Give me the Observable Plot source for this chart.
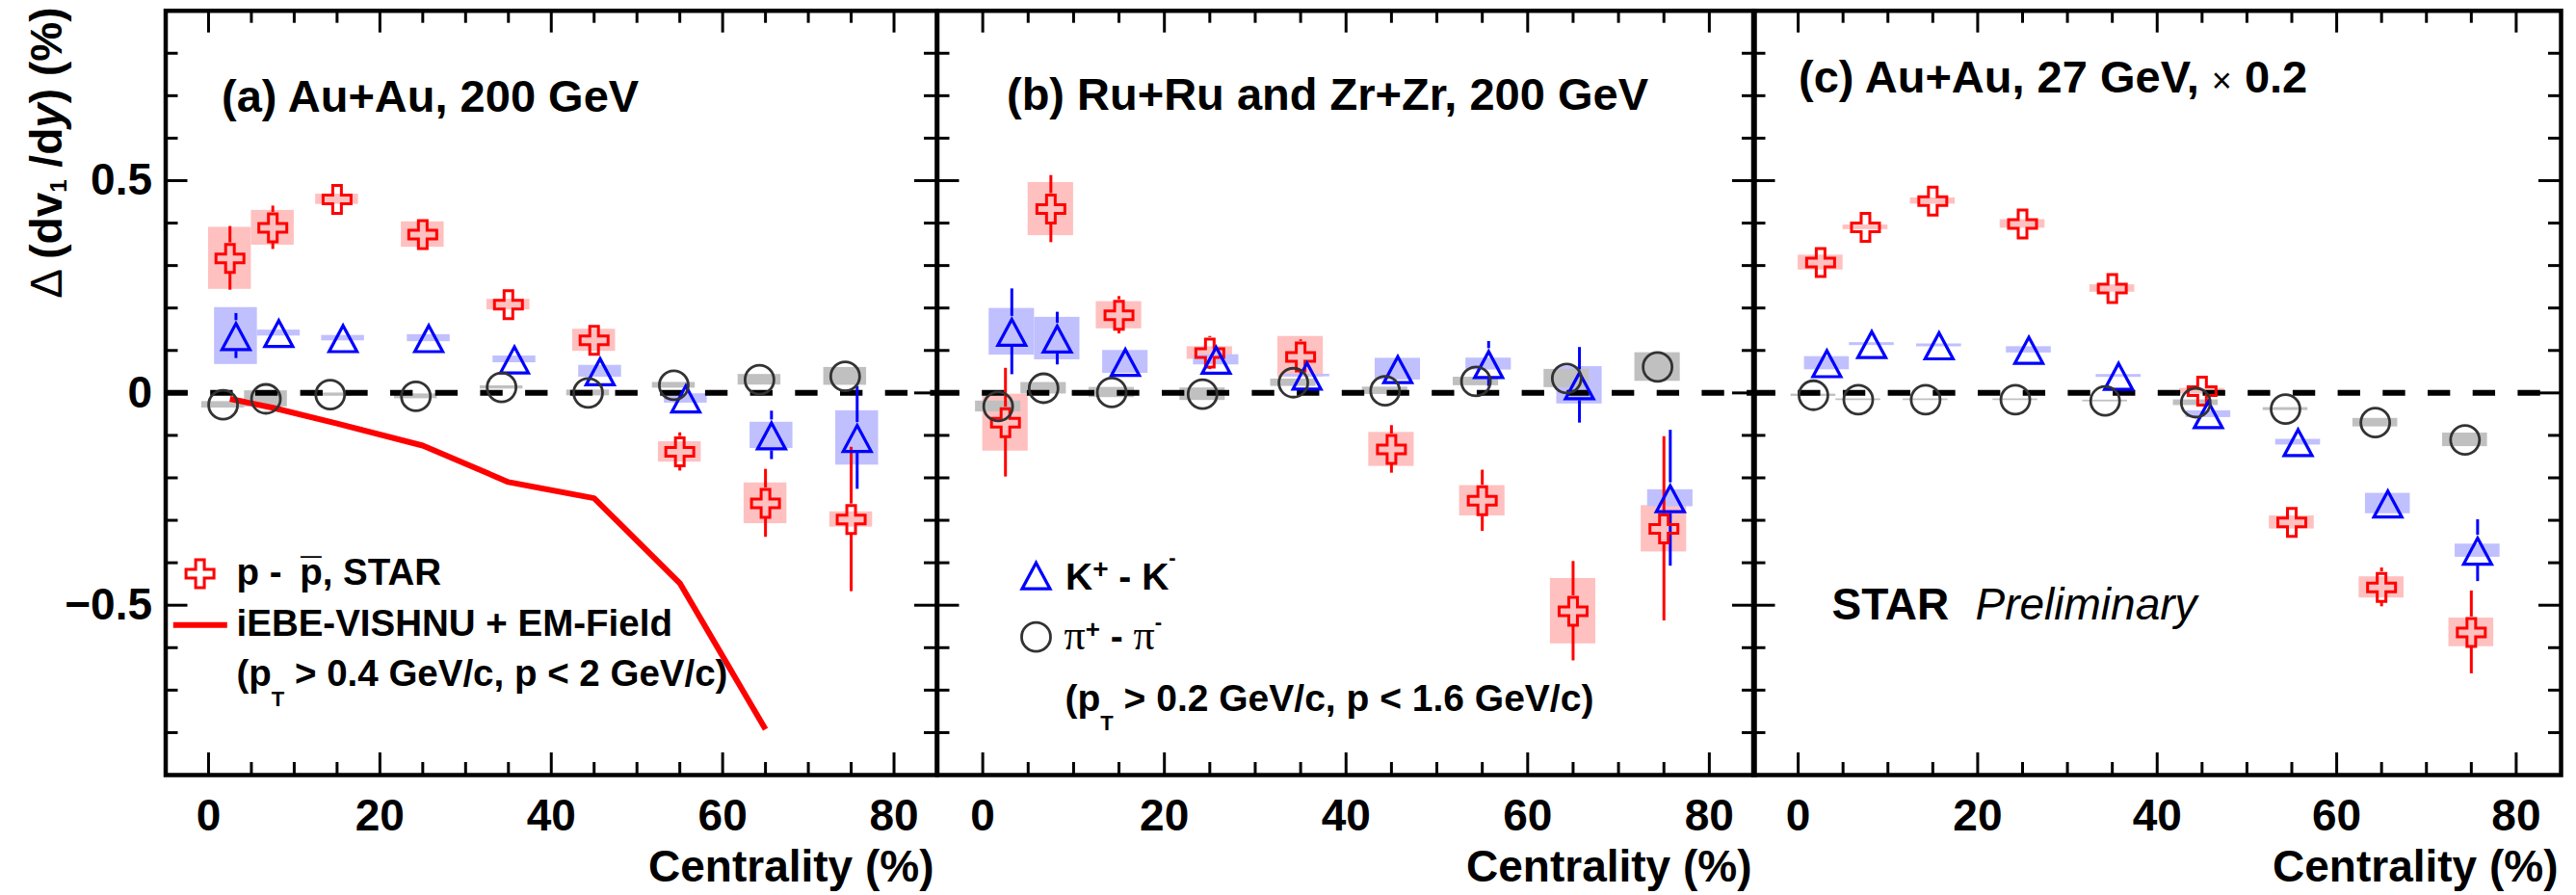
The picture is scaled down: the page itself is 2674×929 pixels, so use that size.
<!DOCTYPE html>
<html>
<head>
<meta charset="utf-8">
<script src="https://cdn.jsdelivr.net/npm/d3@7"></script>
<script src="https://cdn.jsdelivr.net/npm/@observablehq/plot@0.6"></script>
<style>
html, body { margin: 0; padding: 0; background: #fff; }
#chart { position: relative; width: 2674px; height: 929px; overflow: hidden; background: #fff; }
#chart svg { position: absolute; top: 0; }
</style>
</head>
<body>
<div id="chart"></div>
<script>
const FONT = "'Liberation Sans', Arimo, Arial, Helvetica, sans-serif";
const SERIF = "'Liberation Serif', 'Times New Roman', serif";
const RED = "#ff0000", BLUE = "#0000ff", DARK = "#333333";
const RED_BOX = "#ffc0c0", BLUE_BOX = "#c0c0ff", GRAY_BOX = "#c0c0c0";

// ---- axis ticks ----
const xMajorTicks = [0, 20, 40, 60, 80];
const xMinorTicks = [5, 10, 15, 25, 30, 35, 45, 50, 55, 65, 70, 75];
const yMajorTicks = [-0.5, 0, 0.5];
const yMinorTicks = [-0.8, -0.7, -0.6, -0.4, -0.3, -0.2, -0.1, 0.1, 0.2, 0.3, 0.4, 0.6, 0.7, 0.8];
const yTickLabels = ["\u22120.5", "0", "0.5"];

// ---- centrality positions (points are slightly offset per species) ----
const protonX = [2.5, 7.5, 15, 25, 35, 45, 55, 65, 75];
const kaonX   = [3.2, 8.2, 15.7, 25.7, 35.7, 45.7, 55.7, 65.7, 75.7];
const pionX   = [1.7, 6.7, 14.2, 24.2, 34.2, 44.3, 54.3, 64.3, 74.3];

// ---- panel (a) Au+Au 200 GeV ----
const aProtonY    = [0.317, 0.389, 0.456, 0.373, 0.208, 0.124, -0.139, -0.260, -0.298];
const aProtonStat = [0.075, 0.051, 0.020, 0.025, 0.020, 0.030, 0.045, 0.080, 0.170];
const aProtonSys  = [0.073, 0.041, 0.012, 0.030, 0.0125, 0.026, 0.024, 0.048, 0.018];
const aKaonY      = [0.134, 0.141, 0.129, 0.129, 0.079, 0.051, -0.013, -0.100, -0.106];
const aKaonStat   = [0.053, 0.020, 0.020, 0.020, 0.020, 0.020, 0.020, 0.057, 0.121];
const aKaonSys    = [0.067, 0.007, 0.0064, 0.0083, 0.008, 0.014, 0.011, 0.031, 0.064];
const aPionY      = [-0.028, -0.014, -0.004, -0.008, 0.013, 0.000, 0.018, 0.031, 0.039];
const aPionStat   = [0.010, 0.010, 0.010, 0.010, 0.010, 0.010, 0.010, 0.010, 0.010];
const aPionSys    = [0.0076, 0.019, 0.0038, 0.0057, 0.0038, 0.0068, 0.0068, 0.0125, 0.021];
const modelX      = [2.5, 7.5, 15, 25, 35, 45, 55, 65];
const modelY      = [-0.014, -0.035, -0.072, -0.124, -0.210, -0.248, -0.448, -0.792];

// ---- panel (b) Ru+Ru and Zr+Zr 200 GeV ----
const bProtonY    = [-0.070, 0.433, 0.183, 0.094, 0.085, -0.133, -0.254, -0.514, -0.320];
const bProtonStat = [0.128, 0.079, 0.044, 0.039, 0.040, 0.056, 0.072, 0.117, 0.217];
const bProtonSys  = [0.067, 0.0626, 0.032, 0.0148, 0.048, 0.040, 0.0357, 0.077, 0.0545];
const bKaonY      = [0.144, 0.128, 0.073, 0.078, 0.041, 0.056, 0.068, 0.018, -0.248];
const bKaonStat   = [0.101, 0.062, 0.020, 0.020, 0.020, 0.020, 0.053, 0.089, 0.160];
const bKaonSys    = [0.055, 0.050, 0.027, 0.012, 0.003, 0.0256, 0.014, 0.044, 0.020];
const bPionY      = [-0.032, 0.011, 0.001, -0.003, 0.024, 0.005, 0.027, 0.034, 0.061];
const bPionStat   = [0.010, 0.010, 0.010, 0.010, 0.010, 0.010, 0.010, 0.010, 0.038];
const bPionSys    = [0.0128, 0.0135, 0.012, 0.0148, 0.0087, 0.0087, 0.010, 0.0215, 0.0337];

// ---- panel (c) Au+Au 27 GeV x 0.2 ----
const cProtonY    = [0.307, 0.390, 0.452, 0.398, 0.246, 0.004, -0.305, -0.458, -0.564];
const cProtonStat = [0.010, 0.010, 0.010, 0.010, 0.010, 0.020, 0.020, 0.0457, 0.0976];
const cProtonSys  = [0.0175, 0.0054, 0.0074, 0.010, 0.0087, 0.0067, 0.0155, 0.025, 0.0337];
const cKaonY      = [0.070, 0.115, 0.112, 0.1015, 0.040, -0.050, -0.116, -0.2605, -0.3715];
const cKaonStat   = [0.010, 0.010, 0.010, 0.010, 0.010, 0.010, 0.010, 0.020, 0.0727];
const cKaonSys    = [0.0155, 0.0034, 0.0034, 0.0074, 0.0034, 0.008, 0.0067, 0.024, 0.0155];
const cPionY      = [-0.0055, -0.016, -0.016, -0.016, -0.019, -0.023, -0.038, -0.070, -0.1105];
const cPionStat   = [0.005, 0.005, 0.005, 0.005, 0.005, 0.005, 0.005, 0.005, 0.005];
const cPionSys    = [0.0027, 0.002, 0.002, 0.002, 0.002, 0.0067, 0.0034, 0.010, 0.016];

// ---- rich text (sub/superscripts) ----
const RICH = {
  "\u0394 (dv1 /dy) (%)": [["\u0394 ", {weight: "normal"}], ["(dv"], ["1", {size: 24, shift: 5}], [" /d"], ["y", {italic: true}], [") (%)"]],
  "p - p, STAR": [["p - "], ["p", {dx: 8}], ["\u00af", {dx: -22.5}], [", STAR", {dx: 1.2}]],
  "(pT > 0.4 GeV/c, p < 2 GeV/c)": [["(p"], ["T", {size: 22, shift: 21}], [" > 0.4 GeV/c, p < 2 GeV/c)"]],
  "K+ - K-": [["K"], ["+", {size: 28, shift: -12}], [" - K"], ["-", {size: 22, shift: -26}]],
  "\u03c0+ - \u03c0-": [["\u03c0", {family: SERIF, weight: "normal", size: 44}], ["+", {size: 26, shift: -12}], [" - "], ["\u03c0", {family: SERIF, weight: "normal", size: 44}], ["-", {size: 22, shift: -21}]],
  "(pT > 0.2 GeV/c, p < 1.6 GeV/c)": [["(p"], ["T", {size: 22, shift: 20}], [" > 0.2 GeV/c, p < 1.6 GeV/c)"]],
  "(c) Au+Au, 27 GeV, \u00d7 0.2": [["(c) Au+Au, 27 GeV, "], ["\u00d7", {size: 36, weight: "normal"}], [" 0.2"]]
};

function applyRich(svg) {
  svg.querySelectorAll("text").forEach(el => {
    const parts = RICH[el.textContent];
    if (!parts) return;
    el.textContent = "";
    el.style.whiteSpace = "pre";
    let cur = 0;
    for (const [t, o = {}] of parts) {
      const ts = document.createElementNS("http://www.w3.org/2000/svg", "tspan");
      ts.textContent = t;
      const shift = o.shift || 0;
      if (shift !== cur) { ts.setAttribute("dy", shift - cur); cur = shift; }
      if (o.dx) ts.setAttribute("dx", o.dx);
      if (o.size) ts.setAttribute("font-size", o.size);
      if (o.weight) ts.setAttribute("font-weight", o.weight);
      if (o.italic) ts.setAttribute("font-style", "italic");
      if (o.family) ts.setAttribute("font-family", o.family);
      el.appendChild(ts);
    }
  });
}

// ---- marker symbols ----
const crossSym = {draw(ctx) {
  const a = 14.5, w = 4.5;
  ctx.moveTo(-w, -a); ctx.lineTo(w, -a); ctx.lineTo(w, -w); ctx.lineTo(a, -w);
  ctx.lineTo(a, w); ctx.lineTo(w, w); ctx.lineTo(w, a); ctx.lineTo(-w, a);
  ctx.lineTo(-w, w); ctx.lineTo(-a, w); ctx.lineTo(-a, -w); ctx.lineTo(-w, -w);
  ctx.closePath();
}};
const triSym = {draw(ctx) {
  ctx.moveTo(0, -13); ctx.lineTo(14.5, 14); ctx.lineTo(-14.5, 14); ctx.closePath();
}};
const lineSym = {draw(ctx) { ctx.moveTo(-28, 0); ctx.lineTo(28, 0); }};

const rowsOf = (xs, ys, stat, sys) => xs.map((x, i) => ({x, y: ys[i], stat: stat[i], sys: sys[i]}));

const PXU = 793.3 / 1.8; // pixels per unit in y
const GAP = 16;

function boxes(rows, fill) {
  return Plot.rect(rows, {x1: d => d.x - 2.5, x2: d => d.x + 2.5, y1: d => d.y - d.sys, y2: d => d.y + d.sys, fill});
}
function bars(rows, stroke) {
  const r = rows.filter(d => d.stat * PXU > GAP + 1);
  return [
    Plot.ruleX(r, {x: "x", y1: d => d.y + d.stat, y2: "y", insetBottom: GAP, stroke, strokeWidth: 3}),
    Plot.ruleX(r, {x: "x", y1: "y", y2: d => d.y - d.stat, insetTop: GAP, stroke, strokeWidth: 3})
  ];
}
const label = (str, opts) => Plot.text([str], {text: d => d, fontFamily: FONT, fontWeight: "bold", fill: "black", textAnchor: "start", lineAnchor: "bottom", ...opts});

function panel({left, width, ml, mr, protons, kaons, pions, extra}) {
  const H = 929 - 10.7 - 125;
  const W = width - ml - mr;
  const marks = [
    boxes(protons, RED_BOX), boxes(kaons, BLUE_BOX), boxes(pions, GRAY_BOX),
    Plot.ruleY([0], {stroke: "black", strokeWidth: 6, strokeDasharray: "23.35 23.35"}),
    ...(extra.before || []),
    Plot.tickX(xMajorTicks, {x: d => d, insetTop: H - 23, strokeWidth: 3, stroke: "black"}),
    Plot.tickX(xMinorTicks, {x: d => d, insetTop: H - 13, strokeWidth: 3, stroke: "black"}),
    Plot.tickX(xMajorTicks, {x: d => d, insetBottom: H - 23, strokeWidth: 3, stroke: "black"}),
    Plot.tickX(xMinorTicks, {x: d => d, insetBottom: H - 13, strokeWidth: 3, stroke: "black"}),
    Plot.tickY(yMajorTicks, {y: d => d, insetRight: W - 23, strokeWidth: 3, stroke: "black"}),
    Plot.tickY(yMinorTicks, {y: d => d, insetRight: W - 13, strokeWidth: 3, stroke: "black"}),
    Plot.tickY(yMajorTicks, {y: d => d, insetLeft: W - 23, strokeWidth: 3, stroke: "black"}),
    Plot.tickY(yMinorTicks, {y: d => d, insetLeft: W - 13, strokeWidth: 3, stroke: "black"}),
    Plot.frame({stroke: "black", strokeWidth: 4.5}),
    ...bars(protons, RED), ...bars(kaons, BLUE), ...bars(pions, DARK),
    Plot.dot(protons, {x: "x", y: "y", symbol: crossSym, fill: "none", stroke: RED, strokeWidth: 3}),
    Plot.dot(kaons, {x: "x", y: "y", symbol: triSym, fill: "none", stroke: BLUE, strokeWidth: 3.2}),
    Plot.dot(pions, {x: "x", y: "y", r: 15, fill: "none", stroke: DARK, strokeWidth: 2.8}),
    Plot.text(xMajorTicks, {x: d => d, text: d => String(d), frameAnchor: "bottom", dy: 57.5, lineAnchor: "bottom", fontSize: 46, fontWeight: "bold", fontFamily: FONT, fill: "black"}),
    label("Centrality (%)", {frameAnchor: "bottom-right", dx: -3, dy: 110.7, textAnchor: "end", fontSize: 46}),
    ...(extra.after || [])
  ];
  const svg = Plot.plot({
    width, height: 929,
    marginLeft: ml, marginRight: mr, marginTop: 10.7, marginBottom: 125,
    x: {domain: [-5, 85], axis: null},
    y: {domain: [-0.9, 0.9], axis: null},
    style: {background: "transparent", overflow: "visible", fontFamily: FONT},
    marks
  });
  svg.style.left = left + "px";
  svg.style.top = "0px";
  applyRich(svg);
  return svg;
}

const chart = document.getElementById("chart");

chart.appendChild(panel({
  left: 0, width: 990, ml: 171.5, mr: 18,
  protons: rowsOf(protonX, aProtonY, aProtonStat, aProtonSys),
  kaons: rowsOf(kaonX, aKaonY, aKaonStat, aKaonSys),
  pions: rowsOf(pionX, aPionY, aPionStat, aPionSys),
  extra: {
    before: [Plot.line(modelX.map((x, i) => ({x, y: modelY[i]})), {x: "x", y: "y", stroke: RED, strokeWidth: 6, strokeLinejoin: "miter", strokeLinecap: "butt"})],
    after: [
      Plot.text(yMajorTicks, {y: d => d, text: (d, i) => yTickLabels[i], frameAnchor: "left", dx: -14, textAnchor: "end", lineAnchor: "middle", fontSize: 46, fontWeight: "bold", fontFamily: FONT, fill: "black"}),
      label("\u0394 (dv1 /dy) (%)", {frameAnchor: "top-left", dx: -108.2, dy: -3.7, rotate: -90, textAnchor: "end", fontSize: 46}),
      label("(a) Au+Au, 200 GeV", {frameAnchor: "top-left", dx: 58, dy: 104.8, fontSize: 47}),
      Plot.dot([0], {frameAnchor: "top-left", dx: 35.6, dy: 584.3, symbol: crossSym, fill: "none", stroke: RED, strokeWidth: 3}),
      label("p - p, STAR", {frameAnchor: "top-left", dx: 73.5, dy: 596, fontSize: 38.5}),
      Plot.dot([0], {frameAnchor: "top-left", dx: 35.8, dy: 637.6, symbol: lineSym, fill: "none", stroke: RED, strokeWidth: 6}),
      label("iEBE-VISHNU + EM-Field", {frameAnchor: "top-left", dx: 73.5, dy: 648.6, fontSize: 38.5}),
      label("(pT > 0.4 GeV/c, p < 2 GeV/c)", {frameAnchor: "top-left", dx: 73.5, dy: 701, fontSize: 38.5})
    ]
  }
}));

chart.appendChild(panel({
  left: 950, width: 890, ml: 22.5, mr: 19,
  protons: rowsOf(protonX, bProtonY, bProtonStat, bProtonSys),
  kaons: rowsOf(kaonX, bKaonY, bKaonStat, bKaonSys),
  pions: rowsOf(pionX, bPionY, bPionStat, bPionSys),
  extra: {
    after: [
      label("(b) Ru+Ru and Zr+Zr, 200 GeV", {frameAnchor: "top-left", dx: 72, dy: 102.3, fontSize: 47}),
      Plot.dot([0], {frameAnchor: "top-left", dx: 102.5, dy: 586, symbol: triSym, fill: "none", stroke: BLUE, strokeWidth: 3.2}),
      label("K+ - K-", {frameAnchor: "top-left", dx: 133, dy: 601, fontSize: 39}),
      Plot.dot([0], {frameAnchor: "top-left", dx: 102.5, dy: 650, r: 15, fill: "none", stroke: DARK, strokeWidth: 2.8}),
      label("\u03c0+ - \u03c0-", {frameAnchor: "top-left", dx: 131.5, dy: 662.6, fontSize: 39}),
      label("(pT > 0.2 GeV/c, p < 1.6 GeV/c)", {frameAnchor: "top-left", dx: 132.5, dy: 726.8, fontSize: 39})
    ]
  }
}));

chart.appendChild(panel({
  left: 1800, width: 874, ml: 19.5, mr: 16,
  protons: rowsOf(protonX, cProtonY, cProtonStat, cProtonSys),
  kaons: rowsOf(kaonX, cKaonY, cKaonStat, cKaonSys),
  pions: rowsOf(pionX, cPionY, cPionStat, cPionSys),
  extra: {
    after: [
      label("(c) Au+Au, 27 GeV, \u00d7 0.2", {frameAnchor: "top-left", dx: 47, dy: 84.3, fontSize: 47}),
      label("STAR", {frameAnchor: "top-left", dx: 81.5, dy: 631.3, fontSize: 46}),
      label("Preliminary", {frameAnchor: "top-left", dx: 230.5, dy: 631.3, fontSize: 46, fontWeight: "normal", fontStyle: "italic"})
    ]
  }
}));
</script>
</body>
</html>
